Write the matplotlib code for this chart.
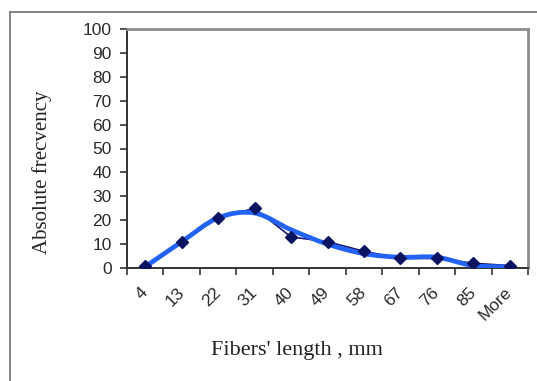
import numpy as np
import matplotlib
matplotlib.use("Agg")
import matplotlib.pyplot as plt
from matplotlib.path import Path
from matplotlib.patches import PathPatch
from matplotlib.lines import Line2D

categories = ["4", "13", "22", "31", "40", "49", "58", "67", "76", "85", "More"]
frequency = [1, 11, 21, 25, 13, 11, 7, 4, 4, 2, 1]
smoothed = [0.5, 11, 21, 23, 16, 10, 6, 4.5, 4.5, 1, 0.5]
yticks = [0, 10, 20, 30, 40, 50, 60, 70, 80, 90, 100]

W, H = 537, 381
fig = plt.figure(figsize=(W / 100, H / 100), dpi=100)
ax = fig.add_axes([127 / W, 1 - 268 / H, (528 - 127) / W, (268 - 29) / H])

x = np.arange(len(categories))

# dark series with diamond markers
ax.plot(x, frequency, color="#14146e", lw=1.2, zorder=2)
ax.plot(x, frequency, ls="none", marker="D", ms=6, color="#0a1460", zorder=4)

# smoothed series (Bezier through its own values)
pts = np.column_stack([x, smoothed]).astype(float)
verts = [tuple(pts[0])]
codes = [Path.MOVETO]
n = len(pts)
for i in range(n - 1):
    p0 = pts[i - 1] if i > 0 else pts[i]
    p1 = pts[i]
    p2 = pts[i + 1]
    p3 = pts[i + 2] if i + 2 < n else pts[i + 1]
    c1 = p1 + (p2 - p0) / 6.0
    c2 = p2 - (p3 - p1) / 6.0
    verts += [tuple(c1), tuple(c2), tuple(p2)]
    codes += [Path.CURVE4] * 3
ax.add_patch(PathPatch(Path(verts, codes), fill=False, ec="#2263f6", lw=3.4,
                       capstyle="round", joinstyle="round", zorder=3))

ax.set_xlim(-0.5, len(categories) - 0.5)
ax.set_ylim(0, 100)
ax.set_yticks(yticks)
ax.set_yticklabels([str(v) for v in yticks], fontfamily="Liberation Sans",
                   fontsize=12.5, color="#2a2a2a")

ax.set_xticks(np.arange(-0.5, len(categories), 1.0))
ax.set_xticklabels([])
ax.set_xticks(x, minor=True)
ax.set_xticklabels(categories, minor=True, rotation=45, ha="right", va="center",
                   rotation_mode="anchor", fontfamily="Liberation Sans",
                   fontsize=12.5, color="#2a2a2a")
ax.tick_params(axis="x", which="major", direction="out", length=5, width=1.2,
               color="#333333")
ax.tick_params(axis="x", which="minor", length=0, pad=16)
ax.tick_params(axis="y", direction="out", length=5, width=1.2, color="#333333",
               pad=6)

for s in ["left", "bottom"]:
    ax.spines[s].set_color("#333333")
    ax.spines[s].set_linewidth(1.4)
for s in ["top", "right"]:
    ax.spines[s].set_color("#8c8c8c")
    ax.spines[s].set_linewidth(2.0)

fig.text(42 / W, 1 - 172 / H, "Absolute frecvency", rotation=90, ha="center",
         va="center", fontfamily="Liberation Serif", fontsize=15, color="#222222")
fig.text(297 / W, 1 - 350 / H, "Fibers' length , mm", ha="center", va="center",
         fontfamily="Liberation Serif", fontsize=16, color="#222222")

# outer frame (left and top edges visible)
fig.add_artist(Line2D([10 / W, 10 / W], [0, 1 - 12 / H], transform=fig.transFigure,
                      color="#7a7a7a", lw=1.3))
fig.add_artist(Line2D([10 / W, 1], [1 - 12 / H, 1 - 12 / H], transform=fig.transFigure,
                      color="#7a7a7a", lw=1.3))

fig.savefig("out.png", dpi=100)
